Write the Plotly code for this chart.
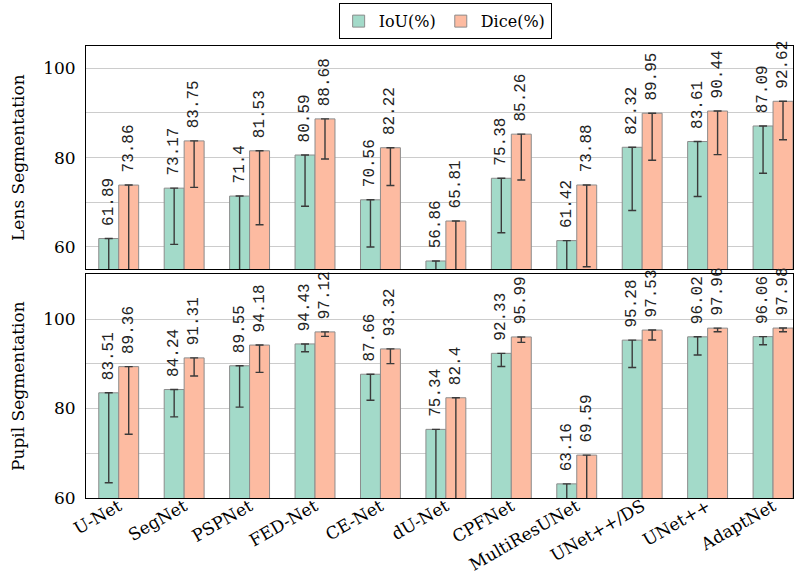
import plotly.graph_objects as go
from plotly.subplots import make_subplots

models = ["U-Net", "SegNet", "PSPNet", "FED-Net", "CE-Net", "dU-Net", "CPFNet",
          "MultiResUNet", "UNet++/DS", "UNet++", "AdaptNet"]

lens_iou = [61.89, 73.17, 71.4, 80.59, 70.56, 56.86, 75.38, 61.42, 82.32, 83.61, 87.09]
lens_dice = [73.86, 83.75, 81.53, 88.68, 82.22, 65.81, 85.26, 73.88, 89.95, 90.44, 92.62]
lens_iou_err = [15.0, 12.6, 20.0, 11.46, 10.56, 10.0, 12.2, 10.0, 14.15, 12.3, 10.6]
lens_dice_err = [25.0, 10.4, 16.57, 9.0, 8.47, 15.0, 10.26, 18.3, 10.55, 9.77, 8.6]

pupil_iou = [83.51, 84.24, 89.55, 94.43, 87.66, 75.34, 92.33, 63.16, 95.28, 96.02, 96.06]
pupil_dice = [89.36, 91.31, 94.18, 97.12, 93.32, 82.4, 95.99, 69.59, 97.53, 97.96, 97.98]
pupil_iou_err = [20.1, 6.1, 9.25, 1.75, 5.8, 20.0, 2.93, 10.0, 6.1, 4.07, 1.8]
pupil_dice_err = [15.1, 4.06, 6.1, 1.0, 3.3, 25.0, 1.22, 15.0, 2.23, 0.8, 0.82]

series_names = ["IoU(%)", "Dice(%)"]
y_ticks = [60, 70, 80, 90, 100]
y_ticktext = ["60", "", "80", "", "100"]

IOU_FILL = "#a3dac9"
DICE_FILL = "#fdbba1"
OUTLINE = "#8c8c8c"
ERR = "#3a3a3a"
SERIF = "DejaVu Serif"

fig = make_subplots(rows=2, cols=1, shared_xaxes=True, vertical_spacing=0.011)

x_idx = list(range(len(models)))


def add_bars(row, vals, errs, name, fill, show):
    fig.add_trace(go.Bar(
        x=x_idx, y=vals, name=name, showlegend=show, legendgroup=name,
        marker=dict(color=fill, line=dict(color=OUTLINE, width=1)),
        error_y=dict(type="data", symmetric=False, array=[0] * len(vals),
                     arrayminus=errs, color=ERR, thickness=1.4, width=4),
        text=["\u00a0" + str(v) for v in vals],
        textposition="outside", textangle=-90, constraintext="none",
        cliponaxis=False,
        textfont=dict(family="Liberation Mono", size=16, color="#222222"),
    ), row=row, col=1)


add_bars(1, lens_iou, lens_iou_err, series_names[0], IOU_FILL, True)
add_bars(1, lens_dice, lens_dice_err, series_names[1], DICE_FILL, True)
add_bars(2, pupil_iou, pupil_iou_err, series_names[0], IOU_FILL, False)
add_bars(2, pupil_dice, pupil_dice_err, series_names[1], DICE_FILL, False)

axis_common = dict(showline=True, mirror=True, linecolor="black", linewidth=1,
                   zeroline=False, automargin=False)

fig.update_layout(
    width=796, height=574,
    margin=dict(l=86, r=3, t=44, b=76),
    plot_bgcolor="white", paper_bgcolor="white",
    barmode="group", bargap=0.39, bargroupgap=0,
    font=dict(family=SERIF, size=17, color="black"),
    legend=dict(orientation="h", x=0.508, xanchor="center", y=1.015, yanchor="bottom",
                bordercolor="black", borderwidth=1, bgcolor="white",
                font=dict(family=SERIF, size=16), itemwidth=30,
                tracegroupgap=0),
)

fig.update_xaxes(range=[-0.5, 10.305], showgrid=False, ticks="", **axis_common)
fig.update_xaxes(tickmode="array", tickvals=x_idx, ticktext=models, tickangle=-30,
                 tickfont=dict(family=SERIF, size=17), ticklabelstandoff=-9,
                 row=2, col=1)
fig.update_xaxes(showticklabels=False, row=1, col=1)

fig.update_yaxes(tickmode="array", tickvals=y_ticks, ticktext=y_ticktext,
                 showgrid=True, gridcolor="#cccccc", gridwidth=1, ticks="",
                 tickfont=dict(family=SERIF, size=17), ticklabelstandoff=6,
                 **axis_common)
fig.update_yaxes(range=[55, 105], domain=[0.506, 1.0], row=1, col=1,
                 title=dict(text="Lens Segmentation", standoff=14,
                            font=dict(family=SERIF, size=17)))
fig.update_yaxes(range=[60, 110], domain=[0.0, 0.495], row=2, col=1,
                 title=dict(text="Pupil Segmentation", standoff=14,
                            font=dict(family=SERIF, size=17)))

fig.write_html("out.html", config={"displayModeBar": False},
               post_script="document.body.style.margin='0';document.body.style.overflow='hidden';")
